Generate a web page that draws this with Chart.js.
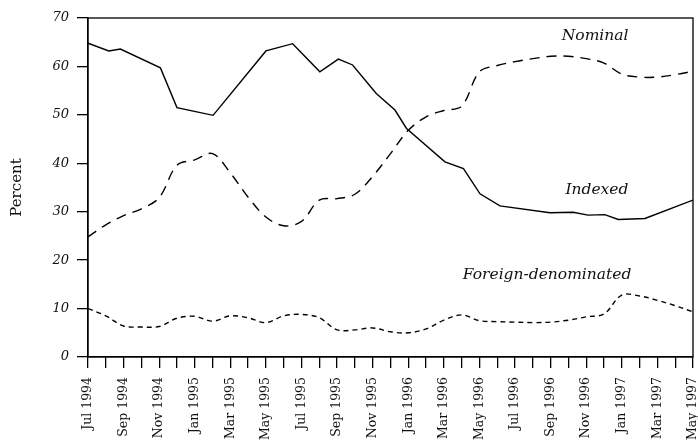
<!DOCTYPE html>
<html>
<head>
<meta charset="utf-8">
<title>Debt shares</title>
<script src="https://cdn.jsdelivr.net/npm/chart.js@4.4.1/dist/chart.umd.min.js"></script>
<style>
  html, body { margin: 0; padding: 0; background: #fff; overflow: hidden; }
  #wrap { width: 698px; height: 441px; overflow: hidden; }
</style>
</head>
<body>
<div id="wrap"><canvas id="stage" width="698" height="441"></canvas></div>
<script>
    // tick labels, one per month (Jul 1994 .. May 1997)
    var monthLabels = ['Jul 1994', 'Aug 1994', 'Sep 1994', 'Oct 1994', 'Nov 1994', 'Dec 1994',
        'Jan 1995', 'Feb 1995', 'Mar 1995', 'Apr 1995', 'May 1995', 'Jun 1995',
        'Jul 1995', 'Aug 1995', 'Sep 1995', 'Oct 1995', 'Nov 1995', 'Dec 1995',
        'Jan 1996', 'Feb 1996', 'Mar 1996', 'Apr 1996', 'May 1996', 'Jun 1996',
        'Jul 1996', 'Aug 1996', 'Sep 1996', 'Oct 1996', 'Nov 1996', 'Dec 1996',
        'Jan 1997', 'Feb 1997', 'Mar 1997', 'Apr 1997', 'May 1997'];

    // Indexed (solid) - observations are not exactly monthly, x in months since Jul 1994
    var indexedMonth = [0, 1.17, 1.82, 4.07, 5.0, 7.03, 10.0, 11.5, 13.03, 14.07, 14.87, 16.2, 17.25,
        17.9, 20.06, 21.1, 22.03, 23.15, 25.96, 27.26, 28.1, 29.04, 29.8, 31.3, 34];
    var indexedValues = [64.8, 63.2, 63.6, 59.7, 51.5, 49.9, 63.2, 64.7, 58.9, 61.5, 60.3, 54.4, 51.0,
        47.2, 40.3, 38.9, 33.7, 31.2, 29.8, 29.9, 29.3, 29.4, 28.4, 28.6, 32.4];

    // Nominal (long dash), monthly
    var nominalValues = [24.8, 27.3, 29.2, 30.6, 32.9, 39.6, 40.7, 42.0, 38.0, 33.0,
        28.9, 27.1, 28.0, 32.4, 32.7, 33.6, 37.3, 42.0, 46.8, 49.6,
        50.9, 51.8, 58.9, 60.2, 61.0, 61.6, 62.1, 62.1, 61.6, 60.7,
        58.4, 57.8, 57.8, 58.3, 59.0];

    // Foreign-denominated (short dash), monthly
    var foreignValues = [10.0, 8.5, 6.4, 6.2, 6.3, 8.0, 8.4, 7.4, 8.5, 8.1,
        7.1, 8.5, 8.8, 8.1, 5.6, 5.6, 6.0, 5.2, 5.0, 5.8,
        7.6, 8.7, 7.5, 7.3, 7.2, 7.1, 7.2, 7.6, 8.3, 8.9,
        12.8, 12.6, 11.7, 10.6, 9.3];

    // series names written inside the plot: [text, month, value]
    var seriesNotes = [
        ['Nominal', 28.5, 66.2],
        ['Indexed', 28.6, 34.4],
        ['Foreign-denominated', 25.8, 17.0]
    ];

    var serif = "'DejaVu Serif', serif";
    var ink = '#111';

    function toPoints(xs, ys) {
        var pts = [];
        for (var i = 0; i < ys.length; i++) pts.push({x: xs[i], y: ys[i]});
        return pts;
    }
    var monthIndex = monthLabels.map(function (_, i) { return i; });

    var framePlugin = {
        id: 'frame',
        afterDatasetsDraw: function (chart) {
            var a = chart.chartArea, ctx = chart.ctx;
            ctx.save();
            ctx.strokeStyle = '#000';
            ctx.lineWidth = 1.3;
            ctx.strokeRect(a.left, a.top, a.right - a.left, a.bottom - a.top);
            ctx.restore();
        }
    };

    var notePlugin = {
        id: 'notes',
        afterDraw: function (chart) {
            var ctx = chart.ctx, xs = chart.scales.x, ys = chart.scales.y;
            ctx.save();
            ctx.fillStyle = ink;
            ctx.font = 'italic 15.5px ' + serif;
            ctx.textAlign = 'center';
            ctx.textBaseline = 'middle';
            seriesNotes.forEach(function (n) {
                ctx.fillText(n[0], xs.getPixelForValue(n[1]), ys.getPixelForValue(n[2]));
            });
            ctx.restore();
        }
    };

    var line = {borderColor: '#000', borderWidth: 1.4, pointRadius: 0, fill: false};

    var chart = new Chart(document.getElementById('stage'), {
        type: 'line',
        data: {
            datasets: [
                Object.assign({label: 'Indexed', data: toPoints(indexedMonth, indexedValues), tension: 0}, line),
                Object.assign({label: 'Nominal', data: toPoints(monthIndex, nominalValues), tension: 0.35, borderDash: [10, 7]}, line),
                Object.assign({label: 'Foreign-denominated', data: toPoints(monthIndex, foreignValues), tension: 0.35, borderDash: [5, 4]}, line)
            ]
        },
        options: {
            responsive: false,
            animation: false,
            layout: {padding: {top: 18, left: 0, right: 0, bottom: 0}},
            plugins: {legend: {display: false}, tooltip: {enabled: false}},
            scales: {
                x: {
                    type: 'linear',
                    min: 0,
                    max: 34,
                    afterBuildTicks: function (axis) {
                        axis.ticks = monthIndex.map(function (i) { return {value: i}; });
                    },
                    ticks: {
                        autoSkip: false,
                        maxRotation: 90,
                        minRotation: 90,
                        padding: 9,
                        color: ink,
                        font: {family: serif, size: 12.5},
                        callback: function (v, i) { return i % 2 === 0 ? monthLabels[i] : ''; }
                    },
                    grid: {drawOnChartArea: false, drawTicks: true, tickLength: 11, color: '#000', lineWidth: 1.3},
                    border: {display: true, color: '#000', width: 1.3},
                    afterFit: function (scale) {
                        scale.height = 84;
                        scale.paddingLeft = 0;
                        scale.paddingRight = 5;
                    }
                },
                y: {
                    min: 0,
                    max: 70,
                    ticks: {stepSize: 10, padding: 8, color: ink, font: {family: serif, size: 13, style: 'italic'}},
                    grid: {drawOnChartArea: false, drawTicks: true, tickLength: 11, color: '#000', lineWidth: 1.3},
                    border: {display: true, color: '#000', width: 1.3},
                    title: {display: true, text: 'Percent', color: ink, font: {family: serif, size: 15}, padding: {top: 8, bottom: 0}},
                    afterFit: function (scale) { scale.width = 88; }
                }
            }
        },
        plugins: [framePlugin, notePlugin]
    });
</script>
</body>
</html>
